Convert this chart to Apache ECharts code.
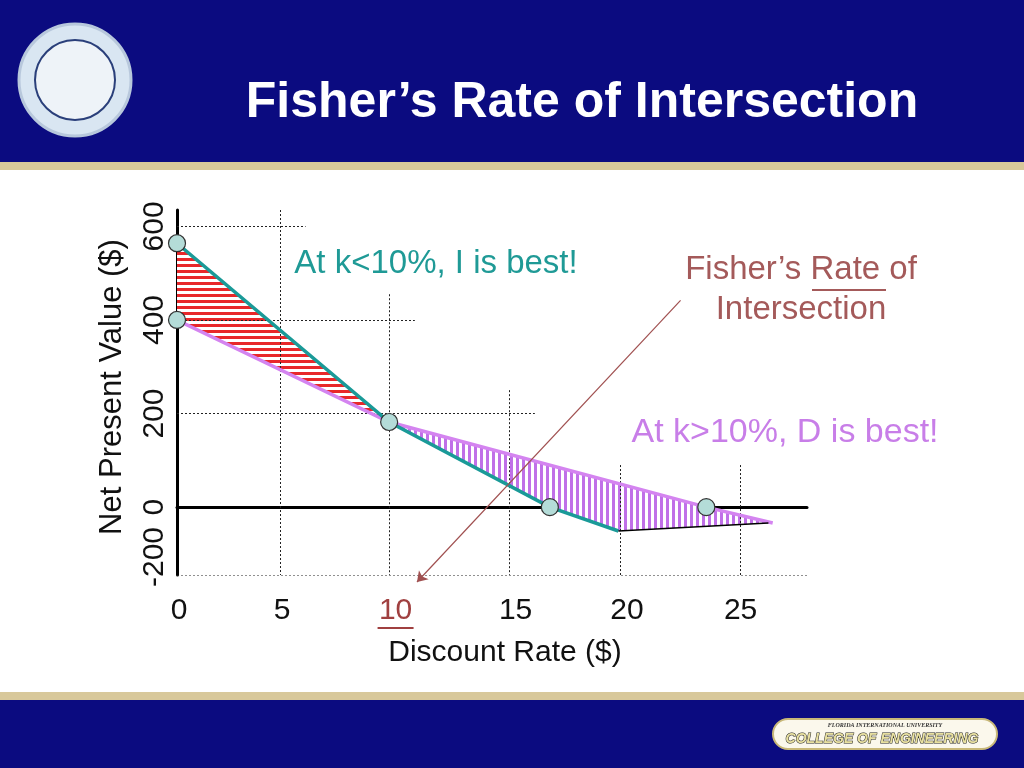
<!DOCTYPE html>
<html><head><meta charset="utf-8">
<script src="https://cdn.jsdelivr.net/npm/echarts@6/dist/echarts.min.js"></script>
<style>html,body{margin:0;padding:0;background:#fff}#c{width:1024px;height:768px}</style>
</head><body><div id="c"></div>
<script>
// ---- data ----
const lineI = [[0,564],[9.9,182],[17.4,0],[20.6,-51]];
const lineD = [[0,400],[9.9,182],[24.7,0],[27.8,-34]];
const lineBlack = [[20.6,-51],[27.6,-34]];
const keyPoints = [[0,564],[0,400],[9.9,182],[17.4,0],[24.7,0]];
const fisherArrow = [[23.5,442],[11.2,-160]];
const xTickLabels = [['0',0.1],['5',4.9],['10',10.2],['15',15.8],['20',21.0],['25',26.3]];
const yTickLabels = [['600',600],['400',400],['200',200],['0',0],['-200',-145]];
// dotted guide segments [x1,y1,x2,y2]
const guides = [
  [0,600,6,600],[0,400,11.1,400],[0,200,16.7,200],[0,-145,29.4,-145],
  [4.8,635,4.8,-145],[9.9,455,9.9,-145],[15.5,250,15.5,-145],[20.7,90,20.7,-145],[26.3,90,26.3,-145]
];
const redRegion = [[0,564],[9.9,182],[0,400]];
const purpleRegion = [[9.9,182],[24.7,0],[27.8,-34],[20.6,-51],[17.4,0]];

function stripes(dir,color){
  const c=document.createElement('canvas');c.width=6;c.height=6;const g=c.getContext('2d');
  g.fillStyle='#fff';g.fillRect(0,0,6,6);g.fillStyle=color;
  if(dir==='h')g.fillRect(0,0,6,3);else g.fillRect(0,0,3,6);
  return {image:c,repeat:'repeat'};
}
const chart=echarts.init(document.getElementById('c'));
function polySeries(pts,fill){
  return {type:'custom',data:[0],silent:true,z:1,renderItem:(p,api)=>({type:'polygon',
    shape:{points:pts.map(q=>api.coord(q))},style:{fill:fill,stroke:null}})};
}
const F='Arial, Liberation Sans';
const header=[
  {type:'rect',shape:{x:0,y:0,width:1024,height:162},style:{fill:'#0b0b80'}},
  {type:'rect',shape:{x:0,y:162,width:1024,height:8},style:{fill:'#d8c89a'}},
  {type:'rect',shape:{x:0,y:692,width:1024,height:8},style:{fill:'#d8c89a'}},
  {type:'rect',shape:{x:0,y:700,width:1024,height:68},style:{fill:'#0b0b80'}},
  {type:'circle',shape:{cx:75,cy:80,r:56},style:{fill:'#d9e6f2',stroke:'#b8c8dc',lineWidth:3}},
  {type:'circle',shape:{cx:75,cy:80,r:40},style:{fill:'#eef3f8',stroke:'#2a3f7a',lineWidth:2}},
  {type:'text',x:582,y:103,style:{text:'Fisher’s Rate of Intersection',fill:'#fff',font:'bold 50px '+F,align:'center',verticalAlign:'middle',textShadowColor:'#333',textShadowOffsetX:3,textShadowOffsetY:3,textShadowBlur:0}},
  {type:'rect',shape:{x:773,y:719,width:224,height:30,r:15},style:{fill:'#fbf8ec',stroke:'#c8b878',lineWidth:2}},
  {type:'text',x:885,y:725,style:{text:'FLORIDA INTERNATIONAL UNIVERSITY',fill:'#333',font:'italic bold 6px serif',align:'center',verticalAlign:'middle'}},
  {type:'text',x:882,y:739,style:{text:'COLLEGE OF ENGINEERING',fill:'#e8e0a0',stroke:'#222',lineWidth:1,font:'italic bold 14px '+F,align:'center',verticalAlign:'middle'}},
  {type:'text',x:436,y:264,style:{text:'At k<10%, I is best!',fill:'#1f9a96',font:'33px '+F,align:'center',verticalAlign:'middle',textShadowColor:'#aaa',textShadowOffsetX:2,textShadowOffsetY:2}},
  {type:'text',x:785,y:433,style:{text:'At k>10%, D is best!',fill:'#c87ee8',font:'34px '+F,align:'center',verticalAlign:'middle',textShadowColor:'#aaa',textShadowOffsetX:2,textShadowOffsetY:2}},
  {type:'text',x:801,y:270,style:{text:'Fisher’s Rate of',fill:'#a45a5a',font:'33px '+F,align:'center',verticalAlign:'middle',textShadowColor:'#bbb',textShadowOffsetX:2,textShadowOffsetY:2}},
  {type:'line',shape:{x1:812,y1:290,x2:886,y2:290},style:{stroke:'#a45a5a',lineWidth:2}},
  {type:'text',x:801,y:310,style:{text:'Intersection',fill:'#a45a5a',font:'33px '+F,align:'center',verticalAlign:'middle',textShadowColor:'#bbb',textShadowOffsetX:2,textShadowOffsetY:2}},
  {type:'text',x:505,y:653,style:{text:'Discount Rate ($)',fill:'#111',font:'30px '+F,align:'center',verticalAlign:'middle'}},
  {type:'text',x:112,y:387,rotation:Math.PI/2,style:{text:'Net Present Value ($)',fill:'#111',font:'31px '+F,align:'center',verticalAlign:'middle'}}
];
chart.setOption({
  animation:false,
  grid:{left:177,right:1024-807,top:210,bottom:768-575},
  xAxis:{type:'value',min:0,max:29.4,axisLine:{onZero:true,lineStyle:{color:'#000',width:3}},axisTick:{show:false},axisLabel:{show:false},splitLine:{show:false}},
  yAxis:{type:'value',min:-145,max:635,axisLine:{show:true,onZero:false,lineStyle:{color:'#000',width:3}},axisTick:{show:false},axisLabel:{show:false},splitLine:{show:false}},
  graphic:header,
  series:[
    polySeries(redRegion,stripes('h','#e8282a')),
    polySeries(purpleRegion,stripes('v','#c070e8')),
    {type:'lines',coordinateSystem:'cartesian2d',silent:true,z:2,
      data:guides.map(g=>({coords:[[g[0],g[1]],[g[2],g[3]]]})),
      lineStyle:{color:'#222',width:1,type:[2,2],opacity:1}},
    {type:'lines',coordinateSystem:'cartesian2d',polyline:true,silent:true,z:3,symbol:['none','arrow'],symbolSize:10,
      lineStyle:{opacity:1},
      data:[{coords:lineD,lineStyle:{color:'#d484f0',width:3.5,opacity:1}},
            {coords:lineI,lineStyle:{color:'#1a9a98',width:3.5,opacity:1}},
            {coords:lineBlack,lineStyle:{color:'#000',width:1.5,opacity:1},symbol:['none','none']}]},
    {type:'lines',coordinateSystem:'cartesian2d',silent:true,clip:false,z:4,symbol:['none','arrow'],symbolSize:10,
      data:[{coords:fisherArrow}],lineStyle:{color:'#a05050',width:1.2,opacity:1}},
    {type:'scatter',data:keyPoints,symbolSize:17,z:5,itemStyle:{color:'#b4dcd8',borderColor:'#333',borderWidth:1.2,opacity:1}}
  ]
});
// tick labels placed through the axis scales
const extra=[];
xTickLabels.forEach(([t,v])=>{const p=chart.convertToPixel({gridIndex:0},[v,0]);
  extra.push({type:'text',x:p[0],y:611,style:{text:t,fill:t==='10'?'#a04040':'#111',font:'30px '+F,align:'center',verticalAlign:'middle'}});
  if(t==='10')extra.push({type:'line',shape:{x1:p[0]-18,y1:628,x2:p[0]+18,y2:628},style:{stroke:'#a04040',lineWidth:2}});});
yTickLabels.forEach(([t,v])=>{const p=chart.convertToPixel({gridIndex:0},[0,v]);
  extra.push({type:'text',x:155,y:p[1]-(t==='-200'?18:0),rotation:Math.PI/2,style:{text:t,fill:'#111',font:'30px '+F,align:'center',verticalAlign:'middle'}});});
chart.setOption({graphic:header.concat(extra)});
</script></body></html>
